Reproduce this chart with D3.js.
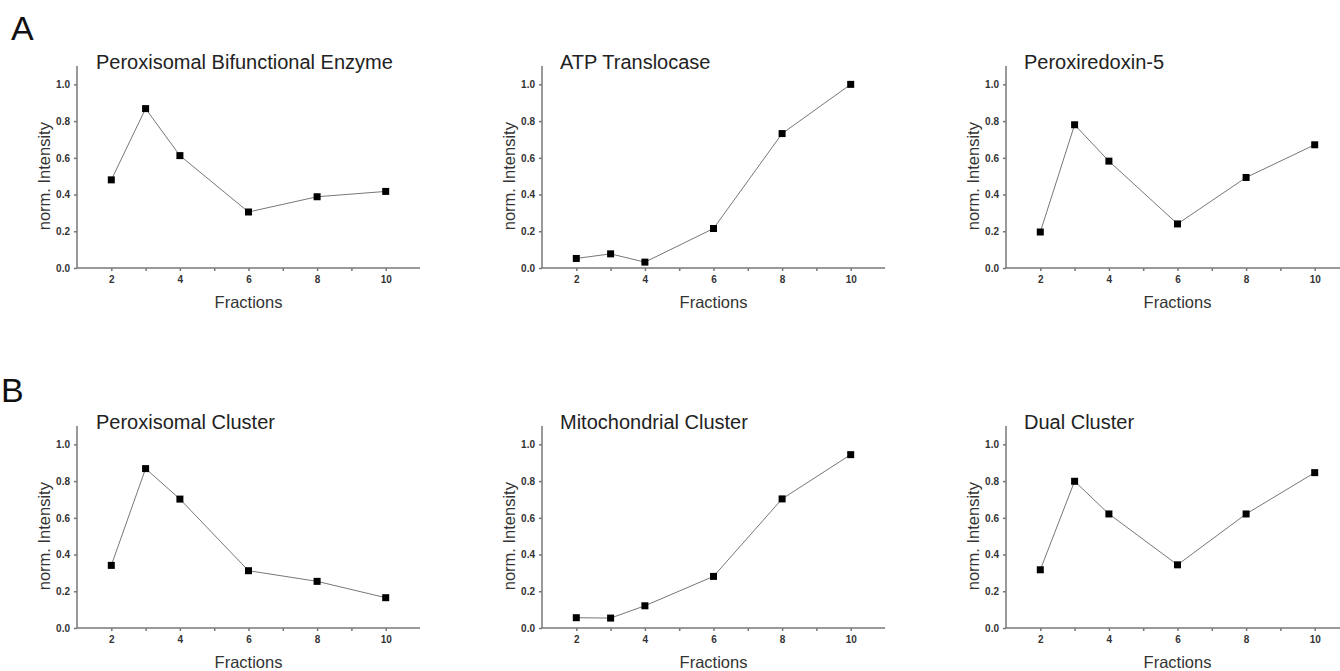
<!DOCTYPE html>
<html>
<head>
<meta charset="utf-8">
<script src="https://cdn.jsdelivr.net/npm/d3@7"></script>
<style>
  body { margin: 0; background: #fff; }
  svg { display: block; font-family: Arial, "Liberation Sans", sans-serif; }
</style>
</head>
<body>
<div id="chart"></div>
<script>
// Fractions measured (x) and normalised intensities per panel
const fractions = [2, 3, 4, 6, 8, 10];
const titles = [
    "Peroxisomal Bifunctional Enzyme", "ATP Translocase", "Peroxiredoxin-5",
    "Peroxisomal Cluster", "Mitochondrial Cluster", "Dual Cluster"
];
const pbeValues = [0.48, 0.868, 0.612, 0.305, 0.388, 0.417];
const atpValues = [0.052, 0.077, 0.032, 0.215, 0.732, 1.0];
const prx5Values = [0.196, 0.78, 0.582, 0.24, 0.493, 0.671];
const peroxClusterValues = [0.341, 0.868, 0.702, 0.312, 0.254, 0.165];
const mitoClusterValues = [0.056, 0.054, 0.121, 0.281, 0.703, 0.944];
const dualClusterValues = [0.317, 0.799, 0.621, 0.344, 0.621, 0.846];
const seriesValues = [pbeValues, atpValues, prx5Values, peroxClusterValues, mitoClusterValues, dualClusterValues];
const xMajorTicks = [2, 4, 6, 8, 10];
const xMinorTicks = [3, 5, 7, 9];
const yTicks = [0, 0.2, 0.4, 0.6, 0.8, 1.0];
const rowLabels = ["A", "B"];

const W = 1340, H = 671;
const colLeft = [77, 542, 1006];   // y-axis position of each column
const rowBase = [268, 628];        // x-axis position of each row
const plotW = 343, plotH = 202;    // x: 1..11, y: 0..1.1

const svg = d3.select("#chart").append("svg")
    .attr("width", W)
    .attr("height", H);

// Panel letters
svg.selectAll(".rowlabel")
    .data(rowLabels)
    .enter()
    .append("text")
    .attr("x", (d, i) => i === 0 ? 11 : 1)
    .attr("y", (d, i) => i === 0 ? 40 : 402)
    .attr("font-size", 34)
    .attr("fill", "#111")
    .text(d => d);

seriesValues.forEach((vals, i) => {
    const col = i % 3, row = Math.floor(i / 3);
    const g = svg.append("g")
        .attr("transform", `translate(${colLeft[col]},${rowBase[row] - plotH})`);

    const x = d3.scaleLinear().domain([1, 11]).range([0, plotW]);
    const y = d3.scaleLinear().domain([0, 1.1]).range([plotH, 0]);

    // X axis with major labelled ticks
    g.append("g")
        .attr("class", "xaxis")
        .attr("transform", `translate(0,${plotH})`)
        .call(d3.axisBottom(x).tickValues(xMajorTicks).tickSize(3).tickPadding(5).tickFormat(d3.format("d")));
    // minor ticks
    g.append("g")
        .attr("transform", `translate(0,${plotH})`)
        .call(d3.axisBottom(x).tickValues(xMinorTicks).tickSize(3).tickFormat(""))
        .call(a => a.select(".domain").remove());

    // Y axis
    g.append("g")
        .attr("class", "yaxis")
        .call(d3.axisLeft(y).tickValues(yTicks).tickSize(3).tickPadding(4).tickFormat(d3.format(".1f")));

    g.selectAll(".domain, .tick line")
        .attr("stroke", "#777")
        .attr("stroke-width", 1.5);
    g.selectAll(".tick text")
        .attr("font-size", 10)
        .attr("font-weight", "bold")
        .attr("fill", "#333")
        .attr("font-family", "Arial, 'Liberation Sans', sans-serif");
    g.select(".xaxis .domain").attr("d", `M0,0H${plotW}`);
    g.select(".yaxis .domain").attr("d", `M0,0V${plotH}`);

    // Line
    const pts = fractions.map((f, k) => ({ f: f, v: vals[k] }));
    g.append("path")
        .datum(pts)
        .attr("fill", "none")
        .attr("stroke", "#777")
        .attr("stroke-width", 1)
        .attr("d", d3.line().x(d => x(d.f)).y(d => y(d.v)));

    // Square markers
    g.selectAll(".pt")
        .data(pts)
        .enter()
        .append("rect")
        .attr("x", d => x(d.f) - 3.5)
        .attr("y", d => y(d.v) - 3.5)
        .attr("width", 7)
        .attr("height", 7)
        .attr("fill", "#000");

    // Title
    g.append("text")
        .attr("x", col === 0 ? 19 : 18)
        .attr("y", 3)
        .attr("font-size", 20)
        .attr("fill", "#222")
        .text(titles[i]);

    // Axis titles
    g.append("text")
        .attr("x", x(6))
        .attr("y", plotH + 40)
        .attr("text-anchor", "middle")
        .attr("font-size", 16.5)
        .attr("fill", "#333")
        .text("Fractions");
    g.append("text")
        .attr("transform", `translate(-27,${y(0.5)}) rotate(-90)`)
        .attr("text-anchor", "middle")
        .attr("font-size", 16.5)
        .attr("fill", "#333")
        .text("norm. Intensity");
});
</script>
</body>
</html>
